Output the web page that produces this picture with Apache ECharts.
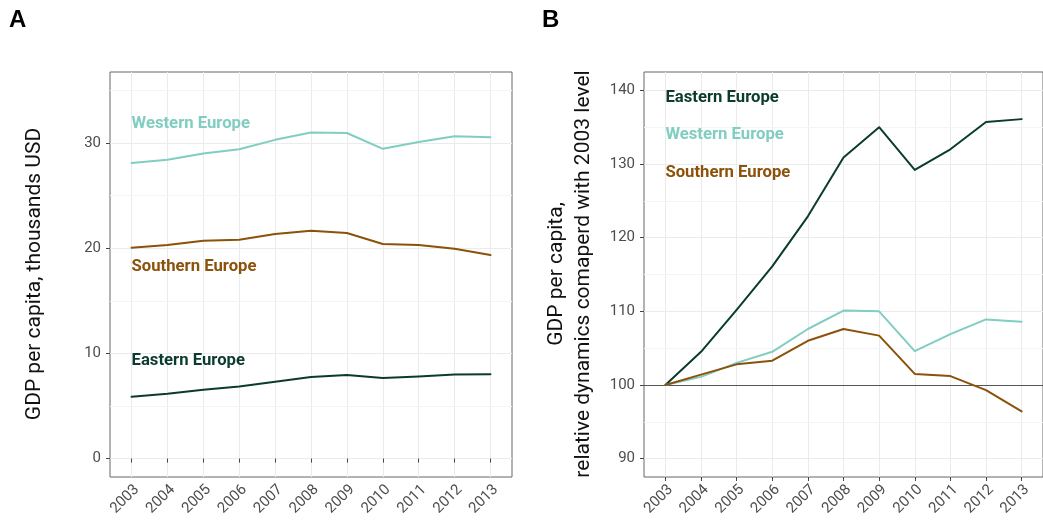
<!DOCTYPE html>
<html style="height: 100%">
<head>
    <meta charset="utf-8">
    <title>GDP per capita in Europe</title>
    <script src="https://cdn.jsdelivr.net/npm/echarts@6/dist/echarts.min.js"></script>
</head>
<body style="margin: 0; height: 100%; background: #fff">
    <div id="main" style="width: 1043px; height: 527px"></div>
    <script>
        // years on x axis
        const years = [2003, 2004, 2005, 2006, 2007, 2008, 2009, 2010, 2011, 2012, 2013];

        // panel A: thousands USD
        const westA = [28.1, 28.4, 29.0, 29.4, 30.3, 31.0, 30.95, 29.45, 30.1, 30.65, 30.55];
        const southA = [20.05, 20.3, 20.7, 20.8, 21.35, 21.67, 21.45, 20.4, 20.3, 19.95, 19.35];
        const eastA = [5.88, 6.16, 6.55, 6.86, 7.31, 7.75, 7.95, 7.65, 7.8, 8.0, 8.02];

        // panel B: relative to 2003 (=100)
        const eastB = [100, 104.5, 110.2, 116.1, 122.9, 130.9, 135.0, 129.2, 132.0, 135.7, 136.1];
        const westB = [100, 101.1, 103.0, 104.5, 107.6, 110.1, 110.0, 104.6, 106.9, 108.9, 108.6];
        const southB = [100, 101.4, 102.8, 103.3, 106.0, 107.6, 106.7, 101.5, 101.2, 99.3, 96.4];

        // tick labels
        const ticksA = [0, 10, 20, 30];
        const minorA = [5, 15, 25, 35];
        const ticksB = [90, 100, 110, 120, 130, 140];
        const minorB = [95, 105, 115, 125, 135];

        const groups = ['Eastern Europe', 'Western Europe', 'Southern Europe'];
        const colors = { 'Eastern Europe': '#0b3b2e', 'Western Europe': '#80cdc1', 'Southern Europe': '#8c510a' };

        const chart = echarts.init(document.getElementById('main'));
        const FONT = 'Roboto';

        function pairs(vals) {
            return years.map((y, i) => [y, vals[i]]);
        }

        function xAxisCfg(idx) {
            return {
                type: 'value', gridIndex: idx, min: 2002.4, max: 2013.6,
                axisLine: { show: false },
                axisTick: { show: true, length: 4, customValues: years, lineStyle: { color: '#444' } },
                axisLabel: {
                    customValues: years, rotate: 45, margin: 5, verticalAlign: 'top',
                    color: '#4d4d4d', fontSize: 15, fontFamily: FONT,
                    formatter: v => String(v)
                },
                splitLine: { show: true, lineStyle: { color: '#ebebeb', width: 1 } }
            };
        }

        function yAxisCfg(idx, min, max, ticks) {
            return {
                type: 'value', gridIndex: idx, min: min, max: max,
                axisLine: { show: false },
                axisTick: { show: true, length: 4, customValues: ticks, lineStyle: { color: '#444' } },
                axisLabel: { customValues: ticks, margin: 9, color: '#4d4d4d', fontSize: 15, fontFamily: FONT },
                splitLine: { show: true, lineStyle: { color: '#ebebeb', width: 1 } }
            };
        }

        function lineSeries(name, vals, idx, labelY) {
            return {
                name: name, type: 'line', xAxisIndex: idx, yAxisIndex: idx,
                data: pairs(vals), showSymbol: false, symbol: 'none', z: 3,
                lineStyle: { color: colors[name], width: 2, join: 'round', cap: 'round' },
                markPoint: {
                    symbol: 'circle', symbolSize: 0, silent: true,
                    data: [{ coord: [2003, labelY] }],
                    label: {
                        show: true, position: 'right', distance: 0, formatter: name,
                        color: colors[name], fontWeight: 'bold', fontSize: 16.7, fontFamily: FONT
                    }
                }
            };
        }

        // minor grid lines (and the 100 baseline) under the data lines
        function gridHelper(idx, minor, extra) {
            const data = minor.map(v => ({ yAxis: v }));
            if (extra) data.push(extra);
            return {
                type: 'line', xAxisIndex: idx, yAxisIndex: idx, data: [], z: 1, silent: true,
                markLine: {
                    z: 1, symbol: 'none', silent: true, label: { show: false },
                    lineStyle: { color: '#f4f4f4', width: 1, type: 'solid' },
                    data: data
                }
            };
        }

        chart.setOption({
            animation: false,
            grid: [
                { left: 110, right: 531, top: 72, bottom: 50, show: true, borderColor: '#666', borderWidth: 1 },
                { left: 644, right: -12, top: 72, bottom: 50, show: true, borderColor: '#666', borderWidth: 1 }
            ],
            xAxis: [xAxisCfg(0), xAxisCfg(1)],
            yAxis: [yAxisCfg(0, -1.75, 36.75, ticksA), yAxisCfg(1, 87.5, 142.5, ticksB)],
            series: [
                gridHelper(0, minorA),
                gridHelper(1, minorB, { yAxis: 100, lineStyle: { color: '#555', width: 1 } }),
                lineSeries('Western Europe', westA, 0, 31.84),
                lineSeries('Southern Europe', southA, 0, 18.27),
                lineSeries('Eastern Europe', eastA, 0, 9.28),
                lineSeries('Eastern Europe', eastB, 1, 139.05),
                lineSeries('Western Europe', westB, 1, 134.0),
                lineSeries('Southern Europe', southB, 1, 128.85)
            ],
            graphic: [
                { type: 'text', x: 9, y: 20, style: { text: 'A', font: 'bold 24px "Liberation Sans"', fill: '#000', verticalAlign: 'middle' } },
                { type: 'text', x: 542, y: 20, style: { text: 'B', font: 'bold 24px "Liberation Sans"', fill: '#000', verticalAlign: 'middle' } },
                {
                    type: 'text', x: 35, y: 274, rotation: Math.PI / 2,
                    style: { text: 'GDP per capita, thousands USD', font: '21px Roboto', fill: '#111', align: 'center', verticalAlign: 'middle' }
                },
                {
                    type: 'text', x: 570, y: 274, rotation: Math.PI / 2,
                    style: {
                        text: 'GDP per capita,\nrelative dynamics comaperd with 2003 level',
                        font: '21px Roboto', lineHeight: 27, fill: '#111', align: 'center', verticalAlign: 'middle'
                    }
                }
            ]
        });
    </script>
</body>
</html>
